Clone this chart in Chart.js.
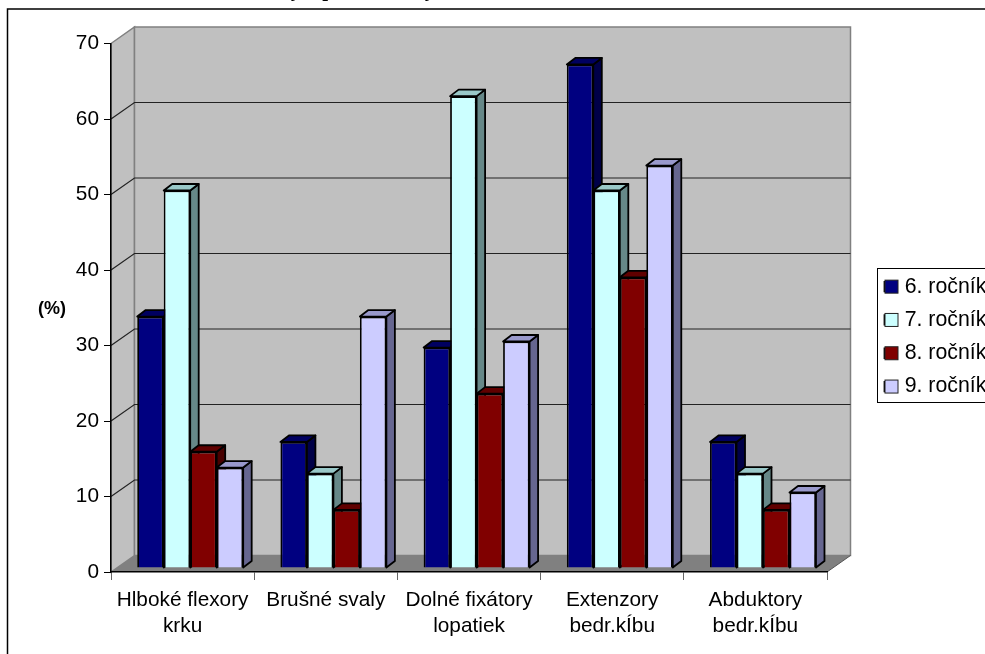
<!DOCTYPE html>
<html>
<head>
<meta charset="utf-8">
<style>
  html, body { margin: 0; padding: 0; background: #fff; overflow: hidden; }
  #wrap { position: relative; width: 985px; height: 654px; }
  canvas { display: block; }
</style>
<script src="https://cdn.jsdelivr.net/npm/chart.js@4/dist/chart.umd.min.js"></script>
</head>
<body>
<div id="wrap"><canvas id="c" width="985" height="654"></canvas></div>
<script>
const categories = [['Hlboké flexory', 'krku'], 'Brušné svaly', ['Dolné fixátory', 'lopatiek'], ['Extenzory', 'bedr.kÍbu'], ['Abduktory', 'bedr.kÍbu']];
const grade6 = [33.3, 16.7, 29.2, 66.7, 16.7];
const grade7 = [50, 12.5, 62.5, 50, 12.5];
const grade8 = [15.4, 7.7, 23.1, 38.5, 7.7];
const grade9 = [13.3, 33.3, 30, 53.3, 10];
const seriesNames = ['6. ročník', '7. ročník', '8. ročník', '9. ročník'];
const frontColors = ['#000080', '#CCFFFF', '#800000', '#CCCCFF'];
const topColors = ['#000060', '#99C8C8', '#600000', '#9999CC'];
const sideColors = ['#000048', '#668888', '#480000', '#666690'];
const yTicks = [0, 10, 20, 30, 40, 50, 60, 70];
const titleText = 'Oslabené svaly – podľa triedy';

const FONT = '"Liberation Sans", Arial, sans-serif';
// Depth of the box: back wall offset from the front plane
const WALL_DX = 23.5, WALL_DY = -16.5;
// Bars stand part-way into the box
const BAR_DX = 7.6, BAR_DY = -4;
const SIDE_DX = 8.5, SIDE_DY = -6.5;

const box3d = {
  id: 'box3d',
  afterLayout(chart) {
    // Legend sits apart from the plot; title rides above the frame
    const lg = chart.legend;
    lg.left = 872.5; lg.right = 1040;
    lg.top = 264; lg.bottom = 640;
    const t = chart.titleBlock;
    t.top = -20; t.bottom = t.top + 21;
    t.left = 0; t.right = 603;
  },
  beforeDraw(chart) {
    const { ctx, chartArea: a, scales: { y } } = chart;
    ctx.save();
    // outer frame of the chart object
    ctx.strokeStyle = '#000'; ctx.lineWidth = 1.5;
    ctx.strokeRect(7.5, 9, 1100, 800);

    const x0 = a.left, x1 = a.right, y0 = y.getPixelForValue(0), yT = y.getPixelForValue(70);
    // left wall
    ctx.fillStyle = '#C0C0C0'; ctx.strokeStyle = '#808080'; ctx.lineWidth = 1.5;
    ctx.beginPath();
    ctx.moveTo(x0, yT); ctx.lineTo(x0 + WALL_DX, yT + WALL_DY);
    ctx.lineTo(x0 + WALL_DX, y0 + WALL_DY); ctx.lineTo(x0, y0); ctx.closePath();
    ctx.fill(); ctx.stroke();
    // back wall
    ctx.beginPath();
    ctx.rect(x0 + WALL_DX, yT + WALL_DY, x1 - x0, y0 - yT);
    ctx.fill(); ctx.stroke();
    // floor
    ctx.fillStyle = '#808080'; ctx.lineWidth = 1;
    ctx.beginPath();
    ctx.moveTo(x0, y0); ctx.lineTo(x0 + WALL_DX, y0 + WALL_DY);
    ctx.lineTo(x1 + WALL_DX, y0 + WALL_DY); ctx.lineTo(x1, y0); ctx.closePath();
    ctx.fill();
    ctx.strokeStyle = '#555'; ctx.beginPath();
    ctx.moveTo(x1, y0); ctx.lineTo(x1 + WALL_DX, y0 + WALL_DY); ctx.stroke();
    // gridlines wrap from the axis across the side wall and back wall
    ctx.strokeStyle = '#222'; ctx.lineWidth = 1.2;
    yTicks.forEach(v => {
      if (v === 0 || v === 70) return;
      const py = y.getPixelForValue(v);
      ctx.beginPath();
      ctx.moveTo(x0, py); ctx.lineTo(x0 + WALL_DX, py + WALL_DY);
      ctx.lineTo(x1 + WALL_DX, py + WALL_DY); ctx.stroke();
    });
    ctx.restore();
  },
  beforeDatasetsDraw(chart) {
    const { ctx } = chart;
    // Left-to-right painter's order so each bar hides the side of its neighbour
    ctx.save();
    ctx.translate(BAR_DX, BAR_DY);
    chart.data.datasets.forEach((ds, i) => {
      const meta = chart.getDatasetMeta(i);
      meta.data.forEach(bar => {
        const p = bar.getProps(['x', 'y', 'base', 'width'], true);
        const l = p.x - p.width / 2, r = p.x + p.width / 2, t = p.y, b = p.base;
        ctx.strokeStyle = '#000'; ctx.lineWidth = 1.8; ctx.lineJoin = 'round';
        ctx.fillStyle = sideColors[i];
        ctx.beginPath();
        ctx.moveTo(r, t); ctx.lineTo(r + SIDE_DX, t + SIDE_DY);
        ctx.lineTo(r + SIDE_DX, b + SIDE_DY); ctx.lineTo(r, b); ctx.closePath();
        ctx.fill(); ctx.stroke();
        ctx.fillStyle = topColors[i];
        ctx.beginPath();
        ctx.moveTo(l, t); ctx.lineTo(l + SIDE_DX, t + SIDE_DY);
        ctx.lineTo(r + SIDE_DX, t + SIDE_DY); ctx.lineTo(r, t); ctx.closePath();
        ctx.fill(); ctx.stroke();
      });
      meta.controller.draw();
    });
    ctx.restore();
    return false;
  },
  afterDraw(chart) {
    const { ctx, legend: lg } = chart;
    ctx.save();
    // legend frame and its square swatches
    ctx.strokeStyle = '#000'; ctx.lineWidth = 1;
    ctx.strokeRect(877.5, 268.5, 140, 134);
    const rowH = lg.options.labels.font.size + lg.options.labels.padding;
    seriesNames.forEach((n, i) => {
      const cy = lg.top + lg.options.labels.padding + lg.options.labels.font.size / 2 + i * rowH;
      ctx.fillStyle = frontColors[i];
      ctx.strokeStyle = '#222';
      ctx.fillRect(885, cy - 6.5, 13, 13);
      ctx.strokeRect(885, cy - 6.5, 13, 13);
    });
    // y axis caption
    ctx.fillStyle = '#000';
    ctx.font = 'bold 18px ' + FONT;
    ctx.textAlign = 'center'; ctx.textBaseline = 'middle';
    ctx.fillText('(%)', 52, 309);
    ctx.restore();
  }
};

new Chart(document.getElementById('c'), {
  type: 'bar',
  plugins: [box3d],
  data: {
    labels: categories,
    datasets: [grade6, grade7, grade8, grade9].map((values, i) => ({
      label: seriesNames[i],
      data: values,
      backgroundColor: frontColors[i],
      borderColor: '#000',
      borderWidth: 1.8,
      categoryPercentage: 0.74,
      barPercentage: 1
    }))
  },
  options: {
    responsive: false,
    animation: false,
    layout: { padding: { left: 11, top: 22.5, right: 58, bottom: 0 } },
    scales: {
      x: {
        afterFit(s) { s.height = 82; },
        grid: { drawOnChartArea: false, drawTicks: true, tickLength: 8, color: '#666', offset: true },
        border: { display: true, color: '#000', width: 1.5 },
        ticks: { color: '#000', font: { family: FONT, size: 20.8, lineHeight: 1.25 }, maxRotation: 0, autoSkip: false, padding: 7 }
      },
      y: {
        min: 0, max: 70,
        afterFit(s) { s.width = 100; },
        afterBuildTicks(s) { s.ticks = yTicks.map(v => ({ value: v })); },
        grid: { drawOnChartArea: false, drawTicks: true, tickLength: 7, color: '#000' },
        border: { display: true, color: '#000', width: 1.5 },
        ticks: { color: '#000', font: { family: FONT, size: 20.8 }, padding: 5 }
      }
    },
    plugins: {
      tooltip: { enabled: false },
      title: {
        display: true, text: titleText, padding: 0,
        color: '#000', font: { family: '"Liberation Serif", serif', size: 21, weight: 'bold', lineHeight: 1 }
      },
      legend: {
        display: true, position: 'right', align: 'start', maxWidth: 100,
        labels: {
          color: '#000', font: { family: FONT, size: 21.3 },
          boxWidth: 9.5, boxHeight: 9.5, padding: 12
        }
      }
    }
  }
});
</script>
</body>
</html>
